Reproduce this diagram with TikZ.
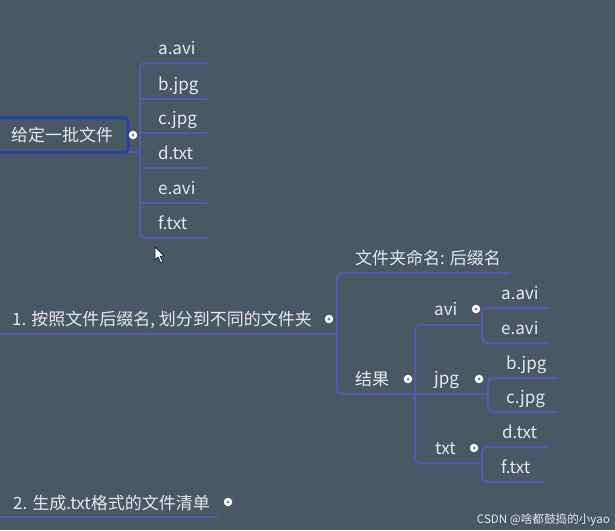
\documentclass[tikz,border=0pt]{standalone}
\usepackage{fontspec}
\setmainfont{Noto Sans CJK SC}
\begin{document}
\begin{tikzpicture}[x=1pt,y=-1pt,
  lbl/.style={anchor=base west,inner sep=0pt,text=txtc,font=\fontsize{17}{20}\selectfont},
  conn/.style={draw=linec,line width=2pt,rounded corners=5pt},
  dotc/.style={circle,fill=white,inner sep=0pt,minimum size=8.5pt},
  dotin/.style={circle,fill=bgc!80!white,inner sep=0pt,minimum size=3pt}]
\definecolor{bgc}{HTML}{4A5765}
\definecolor{linec}{HTML}{5659AE}
\definecolor{boxc}{HTML}{2347A0}
\definecolor{txtc}{HTML}{E8E8E8}
\useasboundingbox (0,0) rectangle (615,530);
\fill[bgc] (0,0) rectangle (615,530);

% ---------- group 1 ----------
\node[draw=boxc,line width=3pt,rounded corners=4pt,minimum width=132pt,minimum height=35pt,
      text=txtc,font=\fontsize{17}{20}\selectfont,inner sep=0pt] (root1) at (62,135) {给定一批文件};
\coordinate (r1b) at (128,152);
\coordinate (g1v) at (140,152);
\foreach \n/\y/\t in {a/63/a.avi,b/99/b.jpg,c/133/c.jpg,d/168/d.txt,e/203/e.avi,f/238/f.txt}{
  \node[lbl] (g1\n) at (158,\y-9) {\t};
  \coordinate (g1\n L) at (140,\y);
  \coordinate (g1\n R) at (207,\y);
}
\draw[conn] (g1aR) -- (g1aL) -- (g1fL) -- (g1fR);
\foreach \n in {b,c,d,e}{\draw[conn] (g1\n L) -- (g1\n R);}
\draw[conn] (r1b) -- (g1v);
\node[dotc] (d1) at (133,135) {};
\node[dotin] at (d1) {};

% ---------- group 2 ----------
\node[lbl] (m1) at (12,325) {1. 按照文件后缀名, 划分到不同的文件夹};
\coordinate (m1L) at (0,334);
\coordinate (m1R) at (337,334);
\draw[conn] (m1L) -- (m1R);
\node[dotc] (d2) at (329,319) {};
\node[dotin] at (d2) {};

\node[lbl] (nm) at (355,264) {文件夹命名: 后缀名};
\coordinate (nmR) at (510,273);
\coordinate (nmL) at (337,273);
\node[lbl] (res) at (355,385) {结果};
\coordinate (resL) at (337,394);
\coordinate (resR) at (415,394);
\draw[conn] (nmR) -- (nmL) -- (resL) -- (resR);
\node[dotc] (d3) at (408,379) {};
\node[dotin] at (d3) {};

% children of 结果
\node[lbl] (avi) at (434,315) {avi};
\node[lbl] (jpg) at (434,384) {jpg};
\node[lbl] (txt) at (435,454) {txt};
\coordinate (aviL) at (415,325);
\coordinate (aviR) at (482,325);
\coordinate (jpgL) at (415,394);
\coordinate (jpgR) at (488,394);
\coordinate (txtL) at (415,463);
\coordinate (txtR) at (482,463);
\draw[conn] (aviR) -- (aviL) -- (txtL) -- (txtR);
\draw[conn] (jpgL) -- (jpgR);
\node[dotc] (d4) at (476,309) {};
\node[dotin] at (d4) {};
\node[dotc] (d5) at (479,379) {};
\node[dotin] at (d5) {};
\node[dotc] (d6) at (474,448) {};
\node[dotin] at (d6) {};

% leaves
\node[lbl] (la) at (501,299) {a.avi};
\node[lbl] (le) at (501,334) {e.avi};
\coordinate (laL) at (482,308); \coordinate (laR) at (549,308);
\coordinate (leL) at (482,343); \coordinate (leR) at (549,343);
\draw[conn] (laR) -- (laL) -- (leL) -- (leR);

\node[lbl] (lb) at (506,369) {b.jpg};
\node[lbl] (lc) at (506,403) {c.jpg};
\coordinate (lbL) at (488,378); \coordinate (lbR) at (558,378);
\coordinate (lcL) at (488,412); \coordinate (lcR) at (557,412);
\draw[conn] (lbR) -- (lbL) -- (lcL) -- (lcR);

\node[lbl] (ld) at (502,438) {d.txt};
\node[lbl] (lf) at (501,473) {f.txt};
\coordinate (ldL) at (482,447); \coordinate (ldR) at (548,447);
\coordinate (lfL) at (482,482); \coordinate (lfR) at (543,482);
\draw[conn] (ldR) -- (ldL) -- (lfL) -- (lfR);

% ---------- group 3 ----------
\node[lbl] (m2) at (13,509) {2. 生成.txt格式的文件清单};
\coordinate (m2L) at (0,517);
\coordinate (m2R) at (218,517);
\draw[conn] (m2L) -- (m2R);
\node[dotc] (d7) at (228,502) {};
\node[dotin] at (d7) {};

% cursor
\filldraw[fill=white,draw=black,line width=0.5pt]
  (155,247) -- (155,260) -- (158,257) -- (161,263) -- (163,262) -- (160,256) -- (164,256) -- cycle;

% watermark
\node[anchor=base east,inner sep=0pt,text=white!85!bgc,font=\fontsize{11.6}{13}\selectfont] (wm) at (610,523) {CSDN @啥都鼓捣的小yao};
\end{tikzpicture}
\end{document}
